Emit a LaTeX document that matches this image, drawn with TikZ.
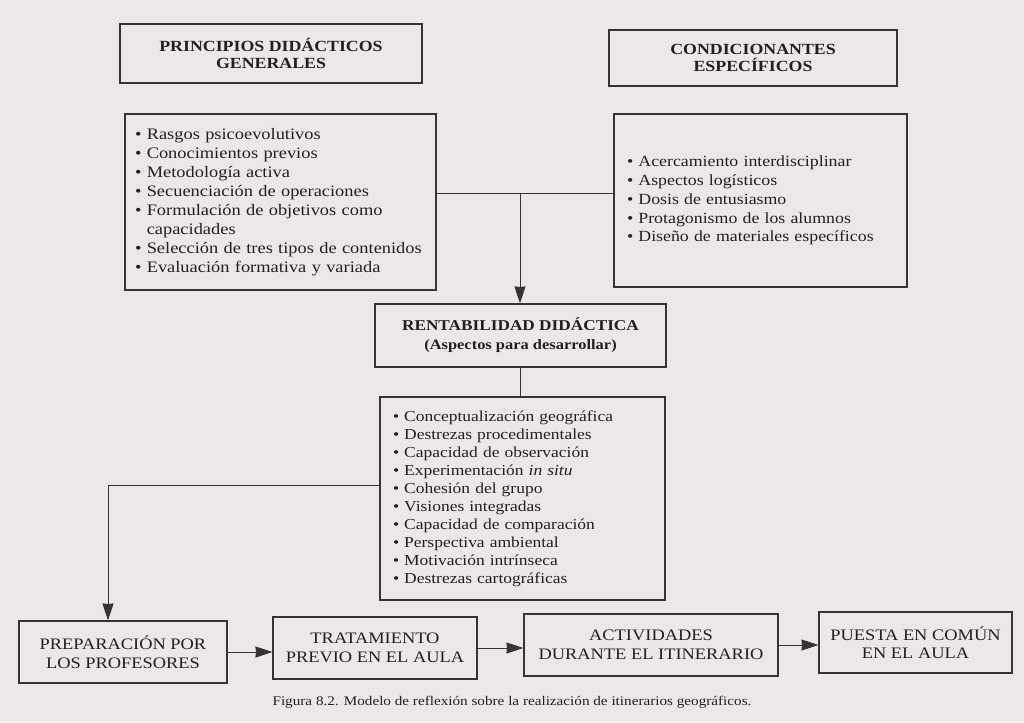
\documentclass[tikz,border=0pt]{standalone}
\usepackage{fontspec}
\setmainfont[FakeStretch=1.15]{Liberation Serif}
\usetikzlibrary{arrows.meta}
\definecolor{bgc}{RGB}{238,231,234}
\definecolor{ink}{RGB}{35,30,35}
\definecolor{linec}{RGB}{55,50,55}
\tikzset{
  box/.style={draw=linec, line width=1.1pt, rectangle, inner sep=0pt, text=ink},
  head/.style={box, align=center, font=\bfseries\fontsize{15.5}{17}\selectfont},
  listbox/.style={box, align=left, anchor=center},
  flow/.style={box, align=center, font=\fontsize{16}{18.5}\selectfont},
  conn/.style={draw=linec, line width=0.95pt},
  arr/.style={conn, -{Stealth[length=17pt,width=11pt,inset=0.5pt]}}
}
\newcommand{\itm}{\textbullet\ }
\begin{document}
\begin{tikzpicture}[x=1pt,y=-1pt]
\useasboundingbox (0,0) rectangle (1024,722);
\fill[bgc] (0,0) rectangle (1024,722);

% headers
\node[head, minimum width=302pt, minimum height=59pt] (ph) at (271,53.5)
  {PRINCIPIOS DIDÁCTICOS\\GENERALES};
\node[head, minimum width=288pt, minimum height=56pt] (ch) at (753,58)
  {CONDICIONANTES\\ESPECÍFICOS};

% left list
\node[listbox, minimum width=311pt, minimum height=176pt, text width=291pt,
      font=\fontsize{16}{19}\selectfont] (pl) at (280.5,202)
  {\itm Rasgos psicoevolutivos\\
   \itm Conocimientos previos\\
   \itm Metodología activa\\
   \itm Secuenciación de operaciones\\
   \itm Formulación de objetivos como\\
   \phantom{\itm}capacidades\\
   \itm Selección de tres tipos de contenidos\\
   \itm Evaluación formativa y variada};

% right list
\node[listbox, minimum width=293pt, minimum height=173pt, text width=267pt,
      font=\fontsize{15.5}{18.8}\selectfont] (pr) at (760.5,200.5)
  {\itm Acercamiento interdisciplinar\\
   \itm Aspectos logísticos\\
   \itm Dosis de entusiasmo\\
   \itm Protagonismo de los alumnos\\
   \itm Diseño de materiales específicos};

% rentabilidad
\node[box, align=center, minimum width=291pt, minimum height=63pt,
      font=\bfseries\fontsize{15}{19}\selectfont] (rb) at (520.5,335.5)
  {RENTABILIDAD DIDÁCTICA\\
   {\fontsize{14.3}{19}\selectfont (Aspectos para desarrollar)}};

% central list
\node[listbox, minimum width=285pt, minimum height=203pt, text width=259pt,
      font=\fontsize{15.2}{18}\selectfont] (cl) at (522.5,498.5)
  {\itm Conceptualización geográfica\\
   \itm Destrezas procedimentales\\
   \itm Capacidad de observación\\
   \itm Experimentación \textit{in situ}\\
   \itm Cohesión del grupo\\
   \itm Visiones integradas\\
   \itm Capacidad de comparación\\
   \itm Perspectiva ambiental\\
   \itm Motivación intrínseca\\
   \itm Destrezas cartográficas};

% bottom flow
\node[flow, minimum width=208pt, minimum height=62pt] (b1) at (123,652)
  {PREPARACIÓN POR\\LOS PROFESORES};
\node[flow, minimum width=204pt, minimum height=62pt] (b2) at (375,648)
  {TRATAMIENTO\\PREVIO EN EL AULA};
\node[flow, minimum width=254pt, minimum height=62pt] (b3) at (651,645)
  {ACTIVIDADES\\DURANTE EL ITINERARIO};
\node[flow, minimum width=193pt, minimum height=61pt] (b4) at (915.5,642.5)
  {PUESTA EN COMÚN\\EN EL AULA};

% connectors
\coordinate (j) at (520,193);
\draw[conn] (pl.east |- j) -- (pr.west |- j);
\draw[arr] (j) -- (j |- rb.north);
\draw[conn] (rb.south) -- (rb.south |- cl.north);
\coordinate (k) at (108,485);
\draw[arr] (cl.west |- k) -- (k) -- (k |- b1.north);
\draw[arr] (b1.east) -- (b2.west |- b1.east);
\draw[arr] (b2.east) -- (b3.west |- b2.east);
\draw[arr] (b3.east) -- (b4.west |- b3.east);

% caption
\node[text=ink, font=\fontsize{13.2}{15}\selectfont] (cap) at (512,702)
  {Figura 8.2. Modelo de reflexión sobre la realización de itinerarios geográficos.};
\end{tikzpicture}
\end{document}
